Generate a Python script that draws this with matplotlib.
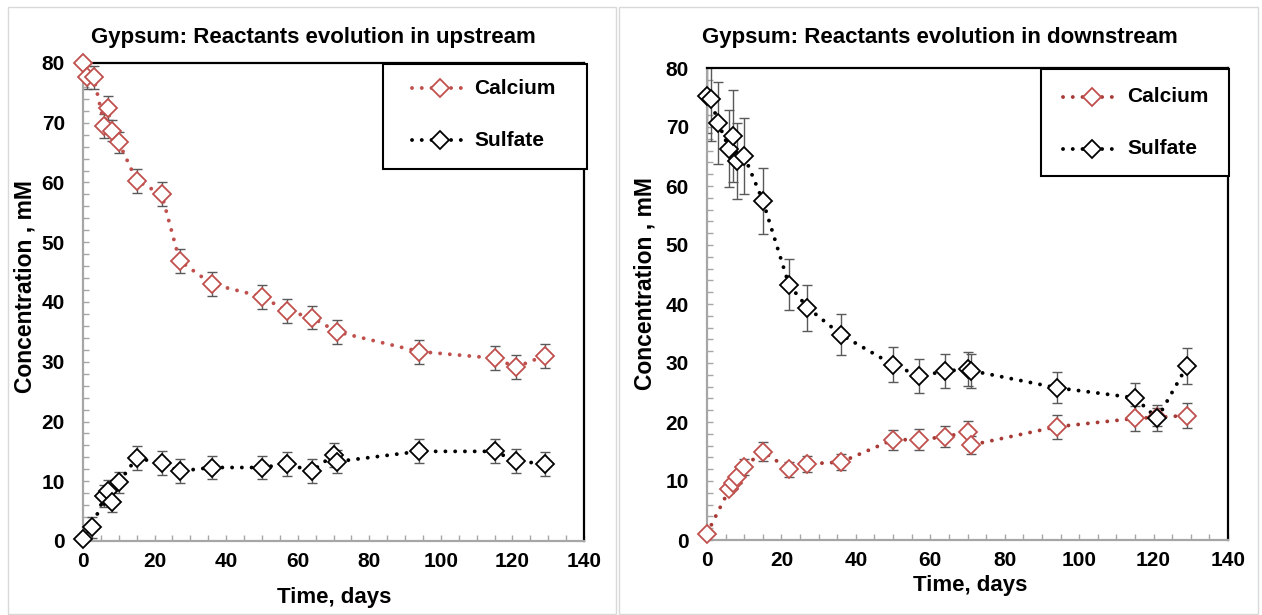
"""Gypsum reactant concentrations, upstream vs downstream."""

import matplotlib

matplotlib.use("Agg")
import matplotlib.pyplot as plt
from matplotlib.lines import Line2D
from matplotlib.patches import Rectangle
from matplotlib.ticker import MultipleLocator

# ---- data ----
up_ca_days = [0, 1, 3, 6, 7, 8, 10, 15, 22, 27, 36, 50, 57, 64, 71, 94, 115, 121, 129]
up_ca = [80.0, 77.6, 77.6, 69.5, 72.5, 68.7, 66.7, 60.3, 58.0, 46.9, 43.0, 40.9,
         38.5, 37.4, 35.0, 31.7, 30.6, 29.1, 31.0]
up_ca_err = [1.5, 1.9, 1.9, 2.0, 2.0, 1.8, 1.8, 2.0, 2.0, 2.0, 2.0, 2.0,
             2.0, 2.0, 2.0, 2.0, 2.0, 2.0, 2.0]

up_so4_days = [0, 2.5, 6, 7, 8, 10, 15, 22, 27, 36, 50, 57, 64, 70, 71, 94, 115, 121, 129]
up_so4 = [0.3, 2.3, 7.5, 8.4, 6.6, 9.8, 13.9, 13.0, 11.7, 12.3, 12.3, 12.9,
          11.7, 14.4, 13.3, 15.0, 15.0, 13.4, 12.9]
up_so4_err = [1.2, 1.8, 1.8, 1.8, 1.8, 1.8, 2.0, 2.0, 2.0, 2.0, 2.0, 2.0,
              2.0, 2.0, 2.0, 2.0, 2.0, 2.0, 2.0]

dn_ca_days = [0, 6, 7, 8, 10, 15, 22, 27, 36, 50, 57, 64, 70, 71, 94, 115, 121, 129]
dn_ca = [1.1, 8.6, 9.6, 10.6, 12.4, 15.0, 12.0, 12.9, 13.2, 17.0, 17.0, 17.5,
         18.3, 16.1, 19.2, 20.6, 20.8, 21.1]
dn_ca_err = [0.0, 0.6, 0.8, 1.0, 1.3, 1.6, 1.3, 1.4, 1.4, 1.7, 1.8, 1.8,
             1.8, 1.6, 2.0, 2.1, 1.5, 2.1]

dn_so4_days = [0, 1, 3, 6, 7, 8, 10, 15, 22, 27, 36, 50, 57, 64, 70, 71, 94, 115, 121, 129]
dn_so4 = [75.3, 74.7, 70.7, 66.3, 68.5, 64.2, 65.1, 57.5, 43.3, 39.4, 34.8, 29.7,
          27.8, 28.6, 29.0, 28.7, 25.8, 24.1, 20.6, 29.5]
dn_so4_err = [6.3, 7.0, 7.0, 6.5, 7.8, 6.4, 6.5, 5.6, 4.3, 3.9, 3.5, 3.0,
              2.8, 2.9, 2.9, 2.9, 2.6, 2.5, 2.2, 3.0]

titles = ["Gypsum: Reactants evolution in upstream",
          "Gypsum: Reactants evolution in downstream"]
series_names = ["Calcium", "Sulfate"]

# ---- style ----
W, H = 1262, 615
RED = "#c0504d"
RED_DARK = "#a83a36"
BLACK = "black"
GRAY_AX = "#a6a6a6"
ERR = "#595959"
DOTS = dict(linestyle=(0, (0.01, 2.5)), dash_capstyle="round", linewidth=2.8)
MS = 9

plt.rcParams["font.family"] = ["Liberation Sans", "DejaVu Sans"]
plt.rcParams["font.weight"] = "bold"


def fx(px):
    return px / W


def fy(py):
    return 1 - py / H


def draw_series(ax, days, vals, errs, line_color, edge_color):
    ax.errorbar(days, vals, yerr=errs, fmt="none", ecolor=ERR, elinewidth=1.0,
                capsize=3.6, capthick=1.0, zorder=2)
    ax.plot(days, vals, color=line_color, zorder=3, **DOTS)
    ax.plot(days, vals, linestyle="none", marker="D", markersize=MS,
            markerfacecolor="white", markeredgecolor=edge_color,
            markeredgewidth=1.3, zorder=4, clip_on=False)


def style_axes(ax):
    ax.set_xlim(0, 140)
    ax.set_ylim(0, 80)
    ax.xaxis.set_major_locator(MultipleLocator(20))
    ax.xaxis.set_minor_locator(MultipleLocator(5))
    ax.yaxis.set_major_locator(MultipleLocator(10))
    ax.yaxis.set_minor_locator(MultipleLocator(2))
    ax.tick_params(which="both", direction="in", color=GRAY_AX, length=4, width=1)
    ax.tick_params(axis="x", labelsize=15, pad=8)
    ax.tick_params(axis="y", labelsize=15, pad=13)
    for lab in ax.get_xticklabels() + ax.get_yticklabels():
        lab.set_fontweight("bold")
    for side in ("left", "bottom"):
        ax.spines[side].set_color(GRAY_AX)
        ax.spines[side].set_linewidth(1.6)
    for side in ("top", "right"):
        ax.spines[side].set_color("black")
        ax.spines[side].set_linewidth(1.6)


def draw_legend(fig, box, handle_x, text_x, rows_y, colors):
    x0, y0, x1, y1 = box
    fig.add_artist(Rectangle((fx(x0), fy(y1)), fx(x1) - fx(x0), fy(y0) - fy(y1),
                             transform=fig.transFigure, facecolor="white",
                             edgecolor="black", linewidth=1.5, zorder=5))
    for name, y, (lc, ec) in zip(series_names, rows_y, colors):
        fig.add_artist(Line2D([fx(handle_x[0]), fx(handle_x[1])], [fy(y), fy(y)],
                              transform=fig.transFigure, color=lc, zorder=6, **DOTS))
        mid = (handle_x[0] + handle_x[1]) / 2
        fig.add_artist(Line2D([fx(mid)], [fy(y)], transform=fig.transFigure,
                              linestyle="none", marker="D", markersize=MS,
                              markerfacecolor="white", markeredgecolor=ec,
                              markeredgewidth=1.3, zorder=7))
        fig.text(fx(text_x), fy(y), name, fontsize=15, fontweight="bold",
                 ha="left", va="center", zorder=7)


fig = plt.figure(figsize=(W / 100, H / 100), dpi=100)

# outer chart frames
for (x0, x1) in [(8, 616), (619, 1258)]:
    fig.add_artist(Rectangle((fx(x0), fy(614)), fx(x1) - fx(x0), fy(7) - fy(614),
                             transform=fig.transFigure, fill=False,
                             edgecolor="#d9d9d9", linewidth=1.0))

ax1 = fig.add_axes([fx(83), fy(541), fx(584) - fx(83), fy(63) - fy(541)])
ax2 = fig.add_axes([fx(707), fy(540), fx(1228) - fx(707), fy(68) - fy(540)])

draw_series(ax1, up_ca_days, up_ca, up_ca_err, RED, RED)
draw_series(ax1, up_so4_days, up_so4, up_so4_err, BLACK, BLACK)
draw_series(ax2, dn_ca_days, dn_ca, dn_ca_err, RED_DARK, RED)
draw_series(ax2, dn_so4_days, dn_so4, dn_so4_err, BLACK, BLACK)

for ax in (ax1, ax2):
    style_axes(ax)

fig.text(fx(313), fy(37), titles[0], fontsize=16, fontweight="bold", ha="center", va="center")
fig.text(fx(940), fy(37), titles[1], fontsize=16, fontweight="bold", ha="center", va="center")
fig.text(fx(334), fy(598), "Time, days", fontsize=16, fontweight="bold", ha="center", va="center")
fig.text(fx(970), fy(585), "Time, days", fontsize=16, fontweight="bold", ha="center", va="center")
fig.text(fx(25), fy(287), "Concentration , mM", fontsize=16.5, fontweight="bold",
         ha="center", va="center", rotation=90)
fig.text(fx(645), fy(284), "Concentration , mM", fontsize=16.5, fontweight="bold",
         ha="center", va="center", rotation=90)

draw_legend(fig, (383, 64, 587, 169), (412, 468), 474, (88, 140),
            [(RED, RED), (BLACK, BLACK)])
draw_legend(fig, (1041, 69, 1229, 176), (1063, 1121), 1127, (97, 149),
            [(RED_DARK, RED), (BLACK, BLACK)])

fig.savefig("out.png", dpi=100)
plt.close(fig)
